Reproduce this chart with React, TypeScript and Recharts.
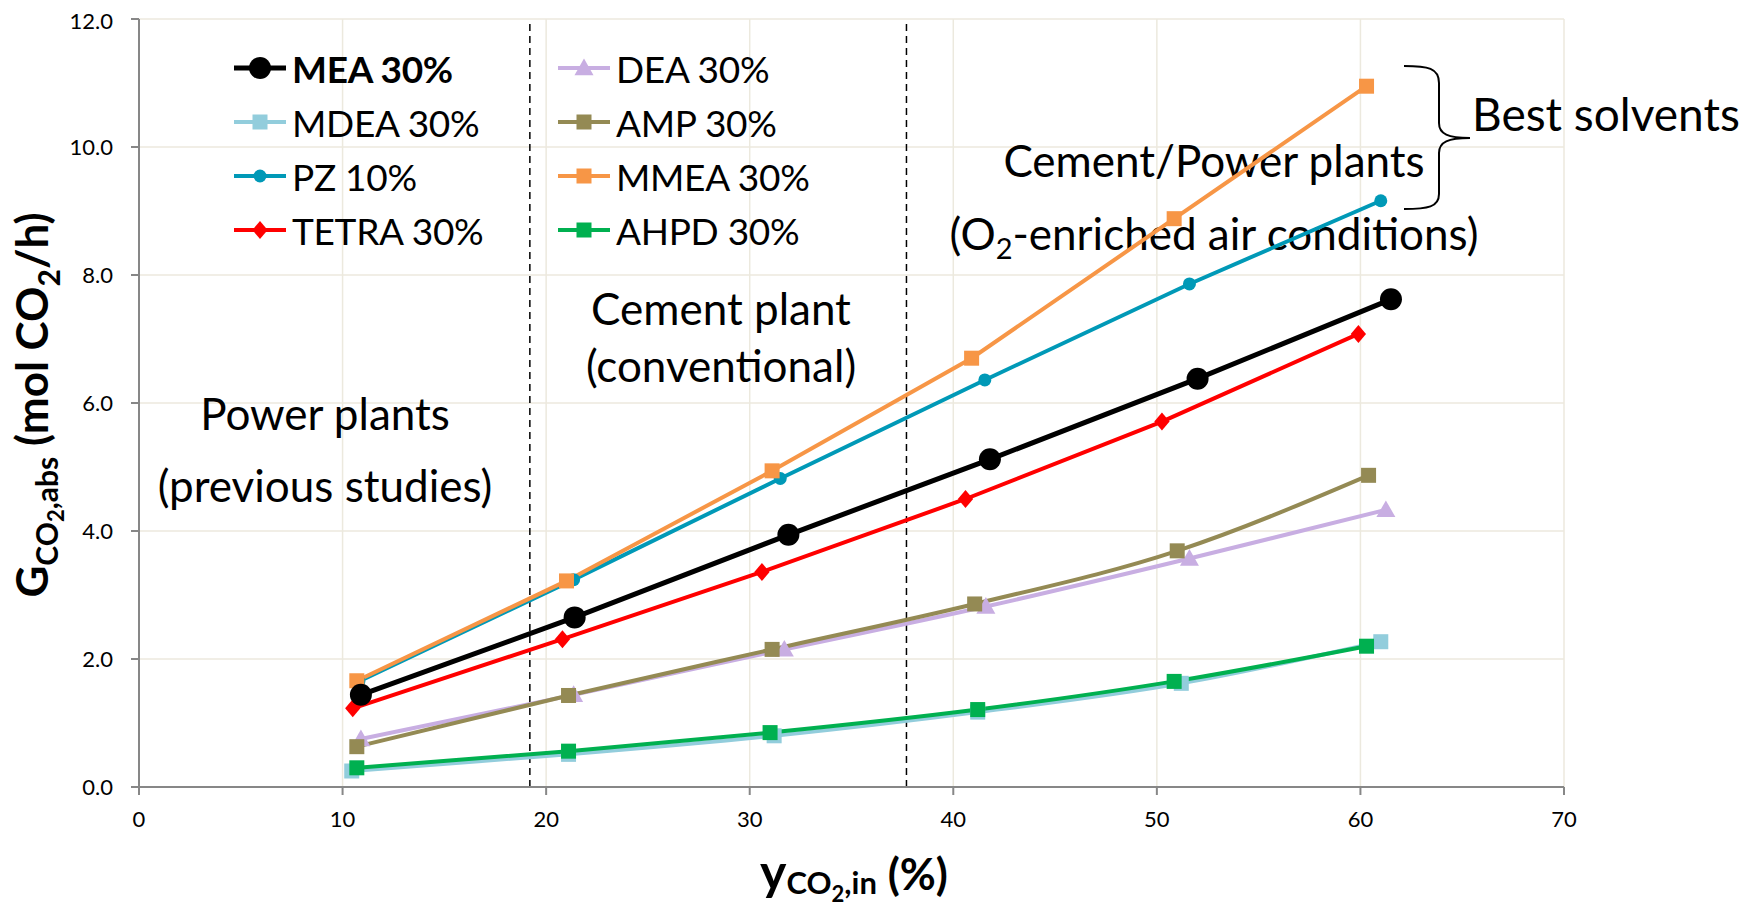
import React from 'react';
import { LineChart, Line, XAxis, YAxis, CartesianGrid, ReferenceLine, Legend, Customized } from 'recharts';

const FONT = 'Lato, "Open Sans", sans-serif';

// x = y_CO2,in (%), y = G_CO2,abs (mol CO2/h)
const xMEA = [10.9, 21.4, 31.9, 41.8, 52.0, 61.5];
const yMEA = [1.44, 2.65, 3.94, 5.12, 6.38, 7.62];
const xMDEA = [10.45, 21.1, 31.2, 41.2, 51.2, 61.0];
const yMDEA = [0.25, 0.51, 0.80, 1.17, 1.62, 2.27];
const xPZ = [10.8, 21.35, 31.5, 41.55, 51.6, 61.0];
const yPZ = [1.65, 3.24, 4.82, 6.36, 7.86, 9.16];
const xTETRA = [10.5, 20.8, 30.6, 40.6, 50.25, 59.9];
const yTETRA = [1.23, 2.31, 3.36, 4.50, 5.71, 7.08];
const xDEA = [10.9, 21.35, 31.7, 41.6, 51.6, 61.25];
const yDEA = [0.75, 1.44, 2.15, 2.82, 3.57, 4.33];
const xAMP = [10.7, 21.1, 31.1, 41.05, 51.0, 60.4];
const yAMP = [0.63, 1.43, 2.15, 2.86, 3.69, 4.87];
const xMMEA = [10.7, 21.0, 31.1, 40.9, 50.85, 60.3];
const yMMEA = [1.66, 3.22, 4.94, 6.70, 8.88, 10.95];
const xAHPD = [10.7, 21.1, 31.0, 41.2, 50.85, 60.3];
const yAHPD = [0.30, 0.56, 0.85, 1.21, 1.65, 2.20];

const xTicks = [0, 10, 20, 30, 40, 50, 60, 70];
const yTicks = [0, 2, 4, 6, 8, 10, 12];
const dividers = [19.2, 37.7];

type Shape = 'circle' | 'square' | 'triangle' | 'diamond';
interface Series { name: string; xs: number[]; ys: number[]; color: string; shape: Shape; size: number; width: number; smooth: boolean; bold?: boolean; }

const series: Record<string, Series> = {
  MEA: { name: 'MEA 30%', xs: xMEA, ys: yMEA, color: '#000000', shape: 'circle', size: 22, width: 5, smooth: false, bold: true },
  MDEA: { name: 'MDEA 30%', xs: xMDEA, ys: yMDEA, color: '#92CDDC', shape: 'square', size: 15, width: 4, smooth: true },
  PZ: { name: 'PZ 10%', xs: xPZ, ys: yPZ, color: '#0099B7', shape: 'circle', size: 13, width: 4, smooth: false },
  TETRA: { name: 'TETRA 30%', xs: xTETRA, ys: yTETRA, color: '#FF0000', shape: 'diamond', size: 18, width: 4, smooth: false },
  DEA: { name: 'DEA 30%', xs: xDEA, ys: yDEA, color: '#C8AEE2', shape: 'triangle', size: 19, width: 4, smooth: true },
  AMP: { name: 'AMP 30%', xs: xAMP, ys: yAMP, color: '#948A54', shape: 'square', size: 15, width: 4, smooth: true },
  MMEA: { name: 'MMEA 30%', xs: xMMEA, ys: yMMEA, color: '#F79646', shape: 'square', size: 15, width: 4, smooth: false },
  AHPD: { name: 'AHPD 30%', xs: xAHPD, ys: yAHPD, color: '#00B050', shape: 'square', size: 15, width: 4, smooth: true },
};

const drawOrder = ['MDEA', 'DEA', 'AHPD', 'AMP', 'PZ', 'MMEA', 'TETRA', 'MEA'];
const legendCols = [['MEA', 'MDEA', 'PZ', 'TETRA'], ['DEA', 'AMP', 'MMEA', 'AHPD']];

const Marker = ({ shape, x, y, color, size }: { shape: Shape; x: number; y: number; color: string; size: number }) => {
  const h = size / 2;
  if (shape === 'circle') return <circle cx={x} cy={y} r={h} fill={color} />;
  if (shape === 'square') return <rect x={x - h} y={y - h} width={size} height={size} fill={color} />;
  if (shape === 'triangle') return <polygon points={`${x},${y - h} ${x + h},${y + h * 0.75} ${x - h},${y + h * 0.75}`} fill={color} />;
  return <polygon points={`${x},${y - h} ${x + h * 0.85},${y} ${x},${y + h} ${x - h * 0.85},${y}`} fill={color} />;
};

const makeDot = (s: Series) => (props: any) => {
  const { cx, cy, index } = props;
  if (cx == null || cy == null) return <g key={index} />;
  return <Marker key={index} shape={s.shape} x={cx} y={cy} color={s.color} size={s.size} />;
};

const LegendBox = () => (
  <div style={{ display: 'flex', fontFamily: FONT }}>
    {legendCols.map((col, ci) => (
      <div key={ci} style={{ width: 324 }}>
        {col.map((k) => {
          const s = series[k];
          return (
            <div key={k} style={{ display: 'flex', alignItems: 'center', height: 54 }}>
              <svg width={56} height={30}>
                <line x1={2} y1={15} x2={54} y2={15} stroke={s.color} strokeWidth={s.width} />
                <Marker shape={s.shape} x={28} y={15} color={s.color} size={s.size} />
              </svg>
              <span style={{ marginLeft: 4, fontSize: 37, color: '#000', fontWeight: s.bold ? 700 : 400, whiteSpace: 'nowrap', letterSpacing: -0.3 }}>{s.name}</span>
            </div>
          );
        })}
      </div>
    ))}
  </div>
);

const Annotations = () => (
  <g fontFamily={FONT} fill="#000">
    <text x={317} y={422} textAnchor="middle" fontSize={44}>Power plants</text>
    <text x={317} y={494} textAnchor="middle" fontSize={44}>(previous studies)</text>
    <text x={713} y={317} textAnchor="middle" fontSize={44}>Cement plant</text>
    <text x={713} y={374} textAnchor="middle" fontSize={44}>(conventional)</text>
    <text x={1206} y={169} textAnchor="middle" fontSize={44}>Cement/Power plants</text>
    <text x={1206} y={242} textAnchor="middle" fontSize={44}>
      (O<tspan fontSize={29} dy={9}>2</tspan><tspan dy={-9}>-enriched air conditions)</tspan>
    </text>
    <text x={1464} y={123} fontSize={46}>Best solvents</text>
    <path d="M1396,58 C1420,58 1431,60 1431,75 L1431,115 C1431,126 1440,130 1462,130 C1440,130 1431,134 1431,145 L1431,186 C1431,199 1420,201 1396,201" fill="none" stroke="#000" strokeWidth={2} />
    <text transform="translate(40,397) rotate(-90)" textAnchor="middle" fontSize={44} fontWeight={700}>
      G<tspan fontSize={30} dy={10}>CO</tspan><tspan fontSize={22} dy={6}>2</tspan><tspan fontSize={30} dy={-6}>,abs</tspan><tspan dy={-10}> (mol CO</tspan><tspan fontSize={30} dy={12}>2</tspan><tspan dy={-12}>/h)</tspan>
    </text>
    <text x={846} y={882} textAnchor="middle" fontSize={44} fontWeight={700}>
      <tspan fontSize={50}>y</tspan><tspan fontSize={31} dy={4}>CO</tspan><tspan fontSize={22} dy={8}>2</tspan><tspan fontSize={31} dy={-8}>,in</tspan><tspan dy={-4}> (%)</tspan>
    </text>
  </g>
);

export default function App() {
  return (
    <LineChart width={1741} height={897} margin={{ top: 11, right: 185, left: 71, bottom: 78 }}>
      <CartesianGrid stroke="#ECE9DE" strokeWidth={1.5} />
      <XAxis type="number" dataKey="x" domain={[0, 70]} ticks={xTicks} allowDataOverflow height={40}
        axisLine={{ stroke: '#878787', strokeWidth: 2 }} tickLine={{ stroke: '#878787', strokeWidth: 2 }} tickSize={8} tickMargin={16}
        tick={{ fontSize: 22, fill: '#000', fontFamily: FONT }} />
      <YAxis type="number" domain={[0, 12]} ticks={yTicks} width={60} tickFormatter={(v: number) => v.toFixed(1)}
        axisLine={{ stroke: '#878787', strokeWidth: 2 }} tickLine={{ stroke: '#878787', strokeWidth: 2 }} tickSize={8} tickMargin={18}
        tick={{ fontSize: 22, fill: '#000', fontFamily: FONT }} />
      {dividers.map((d) => (
        <ReferenceLine key={d} x={d} stroke="#000" strokeWidth={1.5} strokeDasharray="7 5" />
      ))}
      {drawOrder.map((k) => {
        const s = series[k];
        const data = s.xs.map((x, i) => ({ x, y: s.ys[i] }));
        return (
          <Line key={k} data={data} dataKey="y" name={s.name} type={s.smooth ? 'monotone' : 'linear'}
            stroke={s.color} strokeWidth={s.width} dot={makeDot(s)} activeDot={false} isAnimationActive={false} />
        );
      })}
      <Legend layout="vertical" align="center" verticalAlign="middle" content={() => <LegendBox />}
        wrapperStyle={{ position: 'absolute', left: 224, top: 33, width: 660, height: 220 }} />
      <Customized component={<Annotations />} />
    </LineChart>
  );
}
